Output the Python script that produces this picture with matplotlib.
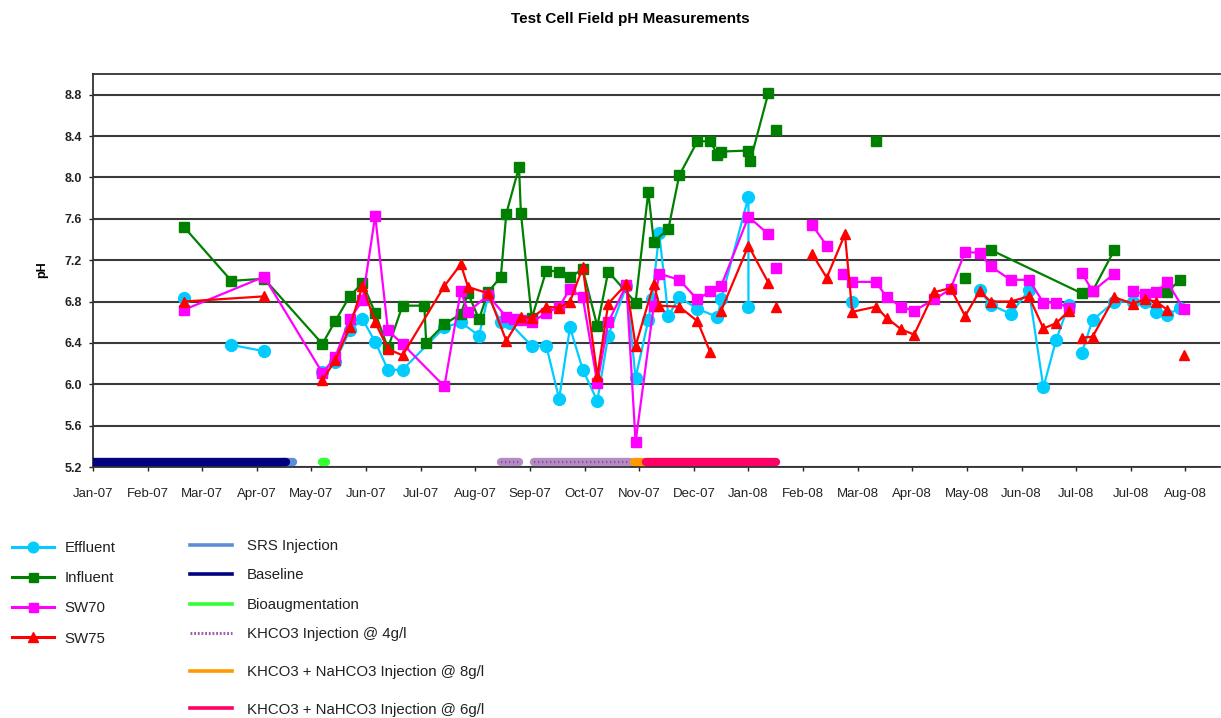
import numpy as np
import pandas as pd
import matplotlib
matplotlib.use('Agg')
import matplotlib.pyplot as plt
import matplotlib.dates as mdates
from matplotlib.lines import Line2D

plt.rcParams['font.family'] = ['Liberation Sans', 'DejaVu Sans']

# field pH readings; None marks a break in the line
eff_dates = ['2007-02-27', None,
             '2007-03-25', '2007-04-12', None,
             '2007-05-14', '2007-05-21', '2007-05-29', '2007-06-05', '2007-06-12', '2007-06-19',
             '2007-06-27', '2007-07-20', '2007-07-29', '2007-08-08', '2007-08-13', '2007-08-20',
             '2007-08-25', '2007-09-06', '2007-09-14', '2007-09-21', '2007-09-27', '2007-10-04',
             '2007-10-12', '2007-10-18', '2007-10-28', '2007-11-02', '2007-11-09', '2007-11-11',
             '2007-11-15', '2007-11-20', '2007-11-26', '2007-12-06', '2007-12-17', '2007-12-19',
             '2008-01-03', '2008-01-03', None,
             '2008-02-29', None,
             '2008-05-09', '2008-05-15', '2008-05-26', '2008-06-05', '2008-06-13', '2008-06-20',
             '2008-06-27', None,
             '2008-07-04', '2008-07-10', '2008-07-22', '2008-08-01', '2008-08-08', '2008-08-14',
             '2008-08-20', '2008-08-27']
eff_ph = [6.83, None,
          6.38, 6.32, None,
          6.12, 6.22, 6.52, 6.63, 6.41, 6.14,
          6.14, 6.55, 6.60, 6.47, 6.85, 6.60,
          6.59, 6.37, 6.37, 5.86, 6.55, 6.14,
          5.84, 6.47, 6.95, 6.06, 6.62, 6.82,
          7.46, 6.66, 6.84, 6.73, 6.65, 6.82,
          7.81, 6.75, None,
          6.80, None,
          6.91, 6.77, 6.68, 6.91, 5.97, 6.43,
          6.77, None,
          6.30, 6.62, 6.80, 6.80, 6.80, 6.70,
          6.67, 6.74]

inf_dates = ['2007-02-27', '2007-03-25', '2007-04-12', '2007-05-14', '2007-05-21', '2007-05-29',
             '2007-06-05', '2007-06-12', '2007-06-19', '2007-06-27', '2007-07-09', '2007-07-10',
             '2007-07-20', '2007-07-29', '2007-08-02', '2007-08-08', '2007-08-13', '2007-08-20',
             '2007-08-23', '2007-08-30', '2007-08-31', '2007-09-06', '2007-09-14', '2007-09-21',
             '2007-09-27', '2007-10-04', '2007-10-12', '2007-10-18', '2007-11-02', '2007-11-09',
             '2007-11-12', '2007-11-20', '2007-11-26', '2007-12-06', '2007-12-13', '2007-12-17',
             '2007-12-19', '2008-01-03', '2008-01-04', '2008-01-14', None,
             '2008-01-18', None,
             '2008-03-13', None,
             '2008-05-01', None,
             '2008-05-15', '2008-07-04', '2008-07-10', '2008-07-22', None,
             '2008-08-20', '2008-08-27']
inf_ph = [7.52, 7.00, 7.02, 6.39, 6.61, 6.85,
          6.98, 6.69, 6.35, 6.76, 6.76, 6.40,
          6.58, 6.68, 6.88, 6.63, 6.89, 7.04,
          7.65, 8.10, 7.66, 6.64, 7.10, 7.09,
          7.04, 7.11, 6.56, 7.09, 6.79, 7.86,
          7.38, 7.50, 8.02, 8.35, 8.35, 8.22,
          8.25, 8.26, 8.16, 8.82, None,
          8.46, None,
          8.35, None,
          7.03, None,
          7.30, 6.88, 6.90, 7.30, None,
          6.89, 7.01]

sw70_dates = ['2007-02-27', '2007-04-12', '2007-05-14', '2007-05-21', '2007-05-29', '2007-06-05',
              '2007-06-12', '2007-06-19', '2007-06-27', '2007-07-20', '2007-07-29', '2007-08-02',
              '2007-08-13', '2007-08-23', '2007-08-27', '2007-08-31', '2007-09-06', '2007-09-14',
              '2007-09-21', '2007-09-27', '2007-10-04', '2007-10-12', '2007-10-18', '2007-10-28',
              '2007-11-02', '2007-11-12', '2007-11-15', '2007-11-26', '2007-12-06', '2007-12-13',
              '2007-12-19', '2008-01-03', '2008-01-14', None,
              '2008-01-18', None,
              '2008-02-07', '2008-02-15', None,
              '2008-02-24', '2008-02-29', '2008-03-13', '2008-03-19', '2008-03-27', '2008-04-03',
              '2008-04-14', '2008-04-23', '2008-05-01', '2008-05-09', '2008-05-15', '2008-05-26',
              '2008-06-05', '2008-06-13', '2008-06-20', '2008-06-27', None,
              '2008-07-04', '2008-07-10', '2008-07-22', None,
              '2008-08-01', '2008-08-08', '2008-08-14', '2008-08-20', '2008-08-29']
sw70_ph = [6.72, 7.04, 6.11, 6.26, 6.63, 6.81,
           7.63, 6.52, 6.39, 5.98, 6.90, 6.70,
           6.86, 6.65, 6.63, 6.62, 6.60, 6.69,
           6.75, 6.92, 6.84, 6.01, 6.60, 6.96,
           5.44, 6.76, 7.07, 7.01, 6.82, 6.90,
           6.95, 7.62, 7.45, None,
           7.12, None,
           7.54, 7.34, None,
           7.07, 6.99, 6.99, 6.84, 6.75, 6.71,
           6.82, 6.92, 7.28, 7.27, 7.14, 7.01,
           7.01, 6.79, 6.79, 6.74, None,
           7.08, 6.90, 7.07, None,
           6.90, 6.87, 6.89, 6.99, 6.73]

sw75_dates = ['2007-02-27', '2007-04-12', None,
              '2007-05-14', '2007-05-21', '2007-05-29', '2007-06-05', '2007-06-12', '2007-06-19',
              '2007-06-27', '2007-07-20', '2007-07-29', '2007-08-02', '2007-08-13', '2007-08-23',
              '2007-08-31', '2007-09-06', '2007-09-14', '2007-09-21', '2007-09-27', '2007-10-04',
              '2007-10-12', '2007-10-18', '2007-10-28', '2007-11-02', '2007-11-12', '2007-11-15',
              '2007-11-26', '2007-12-06', '2007-12-13', None,
              '2007-12-19', '2008-01-03', '2008-01-14', None,
              '2008-01-18', None,
              '2008-02-07', '2008-02-15', '2008-02-25', '2008-02-29', '2008-03-13', '2008-03-19',
              '2008-03-27', '2008-04-03', '2008-04-14', '2008-04-23', '2008-05-01', '2008-05-09',
              '2008-05-15', '2008-05-26', '2008-06-05', '2008-06-13', '2008-06-20', '2008-06-27', None,
              '2008-07-04', '2008-07-10', '2008-07-22', '2008-08-01', '2008-08-08', '2008-08-14',
              '2008-08-20', None,
              '2008-08-29']
sw75_ph = [6.80, 6.85, None,
           6.04, 6.23, 6.55, 6.95, 6.60, 6.34,
           6.28, 6.95, 7.16, 6.94, 6.88, 6.42,
           6.65, 6.64, 6.75, 6.74, 6.80, 7.13,
           6.08, 6.78, 6.97, 6.37, 6.97, 6.76,
           6.75, 6.61, 6.31, None,
           6.71, 7.34, 6.98, None,
           6.75, None,
           7.26, 7.03, 7.45, 6.70, 6.75, 6.64,
           6.53, 6.48, 6.89, 6.93, 6.66, 6.90,
           6.80, 6.80, 6.85, 6.54, 6.59, 6.71, None,
           6.45, 6.46, 6.84, 6.78, 6.82, 6.80,
           6.72, None,
           6.28]

# treatment phases (start, end)
phase_labels = ['SRS Injection', 'Baseline', 'Bioaugmentation', 'KHCO3 Injection @ 4g/l',
                'KHCO3 + NaHCO3 Injection @ 8g/l', 'KHCO3 + NaHCO3 Injection @ 6g/l']
phase_periods = [[('2007-04-22', '2007-04-28')],
                 [('2007-01-01', '2007-04-24')],
                 [('2007-05-14', '2007-05-16')],
                 [('2007-08-20', '2007-08-30'), ('2007-09-07', '2007-10-30')],
                 [('2007-11-01', '2007-11-07')],
                 [('2007-11-08', '2008-01-18')]]
phase_colors = ['#5b8ed6', '#000080', '#33ff33', '#b48cc4', '#ff9900', '#ff0066']


def to_num(dates):
    return np.array([mdates.date2num(pd.Timestamp(d)) if d else np.nan for d in dates])


def to_val(vals):
    return np.array([np.nan if v is None else v for v in vals])


fig = plt.figure(figsize=(12.21, 7.18), dpi=100)
ax = fig.add_axes([93 / 1221, 1 - 467 / 718, 1127 / 1221, 393 / 718])

series = [
    ('Effluent', eff_dates, eff_ph, '#00ccff', 'o', 8.5),
    ('Influent', inf_dates, inf_ph, '#008000', 's', 7.2),
    ('SW70', sw70_dates, sw70_ph, '#ff00ff', 's', 7.2),
    ('SW75', sw75_dates, sw75_ph, '#ff0000', '^', 7.5),
]
handles_left = []
for name, d, v, c, m, ms in series:
    ax.plot(to_num(d), to_val(v), color=c, marker=m, markersize=ms, lw=1.6,
            markeredgecolor=c, zorder=3)
    handles_left.append(Line2D([], [], color=c, marker=m, markersize=ms * 0.9, lw=2.2,
                               markeredgecolor=c))

# phase bars along the bottom of the plot
phase_y = 5.25
handles_right = []
for lab, periods, c in zip(phase_labels, phase_periods, phase_colors):
    for s, e in periods:
        xs = to_num([s, e])
        ax.plot(xs, [phase_y, phase_y], color=c, lw=6, solid_capstyle='round', zorder=4)
        if lab.startswith('KHCO3 Injection'):
            ax.plot(xs, [phase_y, phase_y], color='#8a4c9e', lw=1.6,
                    linestyle=(0, (0.6, 1.2)), zorder=5)
    if lab.startswith('KHCO3 Injection'):
        handles_right.append(Line2D([], [], color='#9c5fb0', lw=2.2, linestyle=(0, (0.6, 0.6))))
    else:
        handles_right.append(Line2D([], [], color=c, lw=2.6))

ticks = pd.date_range('2007-01-08', periods=21, freq='30D')
ax.set_xticks(mdates.date2num(ticks))
ax.set_xticklabels([t.strftime('%b-%y') for t in ticks], fontsize=9.5)
ax.set_xlim(mdates.date2num(pd.Timestamp('2007-01-08')), mdates.date2num(pd.Timestamp('2008-09-18')))

ax.set_ylim(5.2, 9.0)
yt = np.arange(5.2, 8.81, 0.4)
ax.set_yticks(yt)
ax.set_yticklabels([f'{t:.1f}' for t in yt], fontsize=9, fontweight='bold')
ax.yaxis.grid(True, color='#3a3a3a', lw=1.5)
ax.set_axisbelow(True)
ax.tick_params(axis='x', direction='out', length=3, width=1, pad=12, colors='#222222')
ax.tick_params(axis='y', direction='out', length=3, width=1, pad=5, colors='#222222')
for side in ['left', 'bottom', 'top']:
    ax.spines[side].set_color('#333333')
    ax.spines[side].set_linewidth(1.3)
ax.spines['right'].set_visible(False)

fig.text(42 / 1221, 1 - 270 / 718, 'pH', rotation=90, fontsize=9, fontweight='bold',
         ha='center', va='center')
fig.text(630 / 1221, 1 - 19 / 718, 'Test Cell Field pH Measurements', fontsize=11,
         fontweight='bold', ha='center', va='center')

leg_kw = dict(frameon=False, fontsize=10.8, borderpad=0, borderaxespad=0, loc='upper left',
              handlelength=2.8, labelcolor='#222222')
fig.legend(handles_left, [s[0] for s in series], bbox_to_anchor=(12 / 1221, 1 - 541 / 718),
           handletextpad=0.7, labelspacing=1.08, **leg_kw)
fig.legend(handles_right[:4], phase_labels[:4], bbox_to_anchor=(190 / 1221, 1 - 539 / 718),
           handletextpad=1.0, labelspacing=1.03, **leg_kw)
fig.legend(handles_right[4:], phase_labels[4:], bbox_to_anchor=(190 / 1221, 1 - 665 / 718),
           handletextpad=1.0, labelspacing=1.58, **leg_kw)

fig.savefig('out.png', dpi=100)
